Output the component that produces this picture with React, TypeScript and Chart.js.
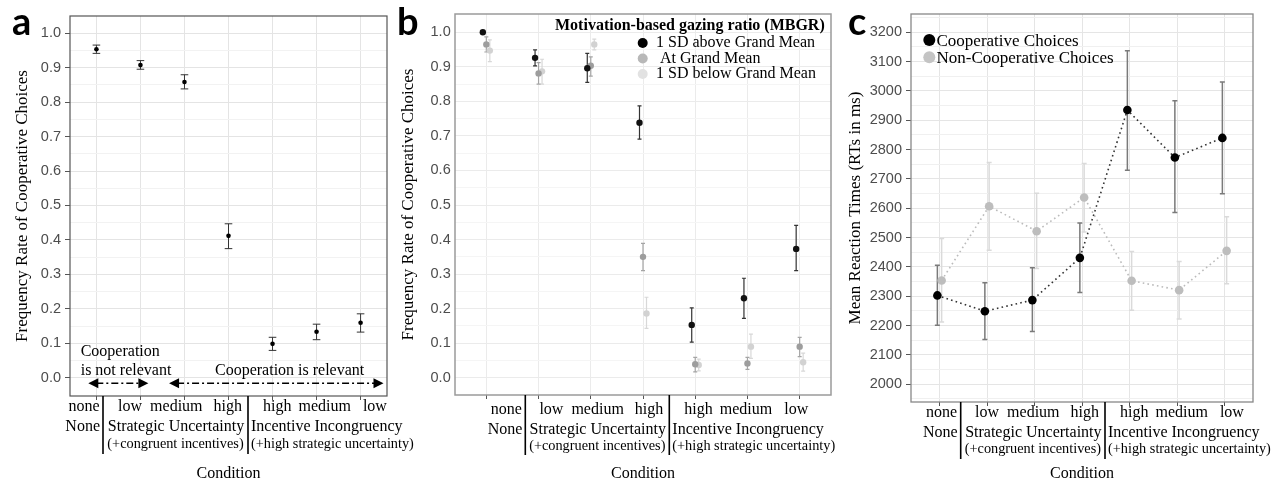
import React, { useEffect, useRef } from "react";
import { Chart, registerables } from "chart.js";

Chart.register(...registerables);

const SERIF = '"Liberation Serif", "Times New Roman", Times, serif';
const SANS = '"Liberation Sans", Arial, Helvetica, sans-serif';
const LABEL_FONT = 'Lato, "Open Sans", "Liberation Sans", sans-serif';

// ---------- shared condition axis ----------
const conditionLevels = ["none", "low", "medium", "high", "high", "medium", "low"];
const conditionGroups = ["None", "Strategic Uncertainty", "Incentive Incongruency"];
const conditionNotes = ["", "(+congruent incentives)", "(+high strategic uncertainty)"];
const conditionGroupSizes = [1, 3, 3];
const xAxisTitle = "Condition";
const panelLetters = ["a", "b", "c"];

// ---------- panel a ----------
const rateTicks = [0, 0.1, 0.2, 0.3, 0.4, 0.5, 0.6, 0.7, 0.8, 0.9, 1.0];
const rateMinorTicks = [0.05, 0.15, 0.25, 0.35, 0.45, 0.55, 0.65, 0.75, 0.85, 0.95];
const rateAxisTitle = "Frequency Rate of Cooperative Choices";
const coopRate = [0.953, 0.907, 0.858, 0.412, 0.099, 0.134, 0.160];
const coopRateLo = [0.941, 0.895, 0.838, 0.375, 0.080, 0.111, 0.133];
const coopRateHi = [0.965, 0.920, 0.879, 0.447, 0.118, 0.156, 0.186];
const relevanceTexts = ["Cooperation", "is not relevant", "Cooperation is relevant"];

// ---------- panel b ----------
const mbgrTitle = "Motivation-based gazing ratio (MBGR)";
const mbgrLabels = ["1 SD above Grand Mean", " At Grand Mean", "1 SD below Grand Mean"];
const mbgrAbove = [1.0, 0.926, 0.896, 0.738, 0.153, 0.230, 0.373];
const mbgrAboveLo = [1.0, 0.903, 0.855, 0.691, 0.103, 0.172, 0.310];
const mbgrAboveHi = [1.0, 0.949, 0.939, 0.787, 0.202, 0.288, 0.441];
const mbgrAt = [0.965, 0.881, 0.903, 0.350, 0.039, 0.041, 0.090];
const mbgrAtLo = [0.943, 0.850, 0.873, 0.310, 0.017, 0.024, 0.061];
const mbgrAtHi = [0.987, 0.912, 0.929, 0.389, 0.059, 0.059, 0.117];
const mbgrBelow = [0.947, 0.887, 0.965, 0.186, 0.037, 0.090, 0.045];
const mbgrBelowLo = [0.915, 0.850, 0.949, 0.143, 0.020, 0.056, 0.019];
const mbgrBelowHi = [0.978, 0.922, 0.980, 0.233, 0.054, 0.126, 0.071];

// ---------- panel c ----------
const rtTicks = [2000, 2100, 2200, 2300, 2400, 2500, 2600, 2700, 2800, 2900, 3000, 3100, 3200];
const rtMinorTicks = [1950, 2050, 2150, 2250, 2350, 2450, 2550, 2650, 2750, 2850, 2950, 3050, 3150, 3250];
const rtAxisTitle = "Mean Reaction Times (RTs in ms)";
const rtLabels = ["Cooperative Choices", "Non-Cooperative Choices"];
const rtCoop = [2303, 2249, 2287, 2431, 2935, 2773, 2840];
const rtCoopLo = [2201, 2153, 2180, 2313, 2730, 2586, 2650];
const rtCoopHi = [2406, 2346, 2397, 2550, 3137, 2967, 3031];
const rtNon = [2354, 2607, 2522, 2637, 2353, 2321, 2455];
const rtNonLo = [2212, 2457, 2395, 2519, 2252, 2223, 2343];
const rtNonHi = [2497, 2756, 2651, 2753, 2453, 2419, 2571];

// ---------- helpers ----------
const pts = (vals: number[], dodge: number) => vals.map((v, i) => ({ x: i + 1 + dodge, y: v }));

function drawWords(ctx: any, words: string[], anchor: number, y: number, gaps: number[], align: string) {
  const widths = words.map((w) => ctx.measureText(w).width);
  const total = widths.reduce((a, b) => a + b, 0) + gaps.reduce((a, b) => a + b, 0);
  let x = align === "right" ? anchor - total : anchor;
  ctx.textAlign = "left";
  words.forEach((w, i) => {
    ctx.fillText(w, x, y);
    x += widths[i] + (gaps[i] || 0);
  });
}

function drawConditionBlock(chart: any, p: any) {
  const ctx = chart.ctx;
  const L = p.canvasLeft;
  const s1 = p.seps[0] - L;
  const s2 = p.seps[1] - L;
  const bottom = chart.chartArea.bottom;
  ctx.save();
  ctx.strokeStyle = "#000";
  ctx.lineWidth = 1.6;
  ctx.beginPath();
  [s1, s2].forEach((s) => {
    ctx.moveTo(s, bottom);
    ctx.lineTo(s, p.sepBottom);
  });
  ctx.stroke();
  ctx.fillStyle = "#000";
  ctx.textBaseline = "middle";
  const f16 = `16px ${SERIF}`;
  const f14 = `14.3px ${SERIF}`;
  const [r1, r2, r3] = p.rowsY;
  const g0 = conditionLevels.slice(0, conditionGroupSizes[0]);
  const g1 = conditionLevels.slice(conditionGroupSizes[0], conditionGroupSizes[0] + conditionGroupSizes[1]);
  const g2 = conditionLevels.slice(conditionGroupSizes[0] + conditionGroupSizes[1]);
  // group 0
  ctx.font = f16;
  ctx.textAlign = "right";
  ctx.fillText(g0.join(" "), s1 - 3.5, r1);
  ctx.fillText(conditionGroups[0], s1 - 3, r2);
  // group 1
  drawWords(ctx, g1, s2 - 6, r1, [8, 11], "right");
  ctx.textAlign = "center";
  ctx.fillText(conditionGroups[1], (s1 + s2) / 2 + 0.5, r2);
  ctx.font = f14;
  ctx.fillText(conditionNotes[1], (s1 + s2) / 2, r3);
  // group 2
  ctx.font = f16;
  drawWords(ctx, g2, s2 + 15, r1, [7, 12], "left");
  ctx.textAlign = "left";
  ctx.fillText(conditionGroups[2], s2 + 3, r2);
  ctx.font = f14;
  ctx.fillText(conditionNotes[2], s2 + 3, r3);
  ctx.restore();
}

function drawDoubleArrow(ctx: any, x1: number, x2: number, y: number) {
  ctx.save();
  ctx.strokeStyle = "#000";
  ctx.fillStyle = "#000";
  ctx.lineWidth = 1.5;
  ctx.setLineDash([7, 3, 2, 3]);
  ctx.beginPath();
  ctx.moveTo(x1 + 8, y);
  ctx.lineTo(x2 - 8, y);
  ctx.stroke();
  ctx.setLineDash([]);
  ctx.beginPath();
  ctx.moveTo(x1, y);
  ctx.lineTo(x1 + 10, y - 5);
  ctx.lineTo(x1 + 10, y + 5);
  ctx.closePath();
  ctx.fill();
  ctx.beginPath();
  ctx.moveTo(x2, y);
  ctx.lineTo(x2 - 10, y - 5);
  ctx.lineTo(x2 - 10, y + 5);
  ctx.closePath();
  ctx.fill();
  ctx.restore();
}

function buildChart(canvas: HTMLCanvasElement, p: any) {
  const H = 482;
  const isMajor = (v: any) => v != null && p.yMajor.some((m: number) => Math.abs(m - v) < 1e-6);
  const decor = {
    id: "panelDecor",
    beforeDatasetsDraw(chart: any) {
      const { ctx, chartArea: a } = chart;
      ctx.save();
      ctx.strokeStyle = p.borderColor;
      ctx.lineWidth = p.borderWidth;
      ctx.strokeRect(a.left, a.top, a.right - a.left, a.bottom - a.top);
      ctx.restore();
      const ys = chart.scales.y;
      const dsList = chart.data.datasets;
      for (let di = dsList.length - 1; di >= 0; di--) {
        const ds: any = dsList[di];
        if (!ds.errLo) continue;
        const meta = chart.getDatasetMeta(di);
        ctx.save();
        ctx.strokeStyle = ds.errColor;
        ctx.lineWidth = ds.errWidth;
        meta.data.forEach((el: any, i: number) => {
          const x = el.x;
          const y1 = ys.getPixelForValue(ds.errLo[i]);
          const y2 = ys.getPixelForValue(ds.errHi[i]);
          if (Math.abs(y1 - y2) < 1) return;
          ctx.beginPath();
          ctx.moveTo(x, y1);
          ctx.lineTo(x, y2);
          ctx.moveTo(x - ds.errCap, y1);
          ctx.lineTo(x + ds.errCap, y1);
          ctx.moveTo(x - ds.errCap, y2);
          ctx.lineTo(x + ds.errCap, y2);
          ctx.stroke();
        });
        ctx.restore();
      }
    },
    afterDraw(chart: any) {
      const ctx = chart.ctx;
      drawConditionBlock(chart, p);
      ctx.save();
      ctx.fillStyle = "#000";
      ctx.font = `bold 38px ${LABEL_FONT}`;
      ctx.textAlign = "left";
      ctx.textBaseline = "alphabetic";
      ctx.fillText(p.label, p.labelX - p.canvasLeft, 35);
      ctx.restore();
      if (p.extra) {
        ctx.save();
        p.extra(chart, ctx);
        ctx.restore();
      }
    },
  };

  return new Chart(canvas, {
    type: "line",
    data: { datasets: p.datasets },
    plugins: [decor],
    options: {
      responsive: false,
      animation: false,
      events: [],
      layout: {
        autoPadding: false,
        padding: {
          left: 0,
          top: p.area.t,
          right: p.canvasWidth - (p.area.r - p.canvasLeft),
          bottom: 0,
        },
      },
      plugins: { legend: { display: false }, tooltip: { enabled: false } },
      scales: {
        x: {
          type: "linear",
          min: 0.4,
          max: 7.6,
          afterBuildTicks: (s: any) => {
            s.ticks = conditionLevels.map((_, i) => ({ value: i + 1 }));
          },
          afterFit: (s: any) => {
            s.height = H - p.area.b;
          },
          ticks: { autoSkip: false, maxRotation: 0, callback: () => "", padding: 0 },
          grid: {
            color: p.gridMajor,
            lineWidth: 1,
            drawTicks: true,
            tickLength: 4,
            tickColor: "#555",
          },
          border: { display: false },
          title: {
            display: true,
            text: xAxisTitle,
            color: "#000",
            font: { family: SERIF, size: 16, lineHeight: 1 },
            padding: { top: 0, bottom: 0 },
          },
        },
        y: {
          type: "linear",
          min: p.yMin,
          max: p.yMax,
          afterBuildTicks: (s: any) => {
            s.ticks = [...p.yMajor, ...p.yMinor].sort((a, b) => a - b).map((v) => ({ value: v }));
          },
          afterFit: (s: any) => {
            s.width = p.area.l - p.canvasLeft;
          },
          ticks: {
            autoSkip: false,
            padding: p.yTickPad,
            color: "#4d4d4d",
            font: { family: SANS, size: 14.5 },
            callback: (v: any) => (isMajor(v) ? p.yFmt(v) : ""),
          },
          grid: {
            color: (c: any) => (isMajor(c.tick && c.tick.value) ? p.gridMajor : p.gridMinor),
            lineWidth: 1,
            drawTicks: p.yTickLen > 0,
            tickLength: p.yTickLen,
            tickColor: (c: any) => (isMajor(c.tick && c.tick.value) ? "#555" : "rgba(0,0,0,0)"),
          },
          border: { display: false },
          title: {
            display: true,
            text: p.yTitle,
            color: "#000",
            font: { family: SERIF, size: 17, lineHeight: 1.2 },
            padding: { top: p.yTitleX - p.canvasLeft - 10.2, bottom: 0 },
          },
        },
      },
    } as any,
  });
}

// ---------- panel configs ----------
const rateFmt = (v: number) => v.toFixed(1);

const panelA = {
  canvasLeft: 0,
  canvasWidth: 425,
  area: { l: 70, r: 387, t: 16, b: 396 },
  yMin: -0.0522,
  yMax: 1.0493,
  yMajor: rateTicks,
  yMinor: rateMinorTicks,
  yFmt: rateFmt,
  yTitle: rateAxisTitle,
  yTitleX: 22.5,
  yTickLen: 5,
  yTickPad: 4,
  gridMajor: "#e4e4e4",
  gridMinor: "#f2f2f2",
  borderColor: "#555",
  borderWidth: 1.2,
  seps: [103, 248],
  rowsY: [407, 427, 444.3],
  sepBottom: 454,
  label: panelLetters[0],
  labelX: 12,
  datasets: [
    {
      label: "Frequency rate",
      data: pts(coopRate, 0),
      showLine: false,
      pointRadius: 2.3,
      pointBorderWidth: 0,
      pointBackgroundColor: "#000",
      borderColor: "#000",
      errLo: coopRateLo,
      errHi: coopRateHi,
      errColor: "#333",
      errWidth: 1,
      errCap: 3.8,
    },
  ],
  extra: (chart: any, ctx: any) => {
    const xs = chart.scales.x;
    const ys = chart.scales.y;
    ctx.fillStyle = "#000";
    ctx.font = `16px ${SERIF}`;
    ctx.textAlign = "left";
    ctx.textBaseline = "middle";
    ctx.fillText(relevanceTexts[0], xs.getPixelForValue(0.643), ys.getPixelForValue(0.076));
    ctx.fillText(relevanceTexts[1], xs.getPixelForValue(0.643), ys.getPixelForValue(0.021));
    ctx.fillText(relevanceTexts[2], xs.getPixelForValue(3.693), ys.getPixelForValue(0.021));
    const ay = ys.getPixelForValue(-0.015);
    drawDoubleArrow(ctx, xs.getPixelForValue(0.816), xs.getPixelForValue(2.18), ay);
    drawDoubleArrow(ctx, xs.getPixelForValue(2.65), xs.getPixelForValue(7.52), ay);
  },
};

const mbgrColors = ["#111111", "#9d9d9d", "#d2d2d2"];
const mbgrErrColors = ["#333333", "#a5a5a5", "#d8d8d8"];
const mbgrLegendColors = ["#000000", "#b8b8b8", "#e2e2e2"];
const mbgrDodge = [-0.067, 0, 0.067];
const mbgrSeries = [
  [mbgrAbove, mbgrAboveLo, mbgrAboveHi],
  [mbgrAt, mbgrAtLo, mbgrAtHi],
  [mbgrBelow, mbgrBelowLo, mbgrBelowHi],
];

const panelB = {
  canvasLeft: 392,
  canvasWidth: 450,
  area: { l: 455, r: 831, t: 14, b: 395 },
  yMin: -0.05,
  yMax: 1.053,
  yMajor: rateTicks,
  yMinor: rateMinorTicks,
  yFmt: rateFmt,
  yTitle: rateAxisTitle,
  yTitleX: 408.5,
  yTickLen: 0,
  yTickPad: 4.3,
  gridMajor: "#ebebeb",
  gridMinor: "#f5f5f5",
  borderColor: "#9a9a9a",
  borderWidth: 1.5,
  seps: [525.3, 669.3],
  rowsY: [409.3, 429.3, 446],
  sepBottom: 455,
  label: panelLetters[1],
  labelX: 397,
  datasets: mbgrSeries.map((s, k) => ({
    label: mbgrLabels[k],
    data: pts(s[0], mbgrDodge[k]),
    showLine: false,
    pointRadius: 3.2,
    pointBorderWidth: 0,
    pointBackgroundColor: mbgrColors[k],
    borderColor: mbgrColors[k],
    errLo: s[1],
    errHi: s[2],
    errColor: mbgrErrColors[k],
    errWidth: 1.2,
    errCap: 2,
  })),
  extra: (chart: any, ctx: any) => {
    const L = 392;
    ctx.fillStyle = "#000";
    ctx.textBaseline = "middle";
    ctx.textAlign = "left";
    ctx.font = `bold 16px ${SERIF}`;
    ctx.fillText(mbgrTitle, 555 - L, 25.5);
    const rows = [43, 58.5, 74];
    ctx.font = `16px ${SERIF}`;
    chart.data.datasets.forEach((ds: any, k: number) => {
      ctx.fillStyle = mbgrLegendColors[k];
      ctx.beginPath();
      ctx.arc(642.7 - L, rows[k], 5, 0, Math.PI * 2);
      ctx.fill();
      ctx.fillStyle = "#000";
      ctx.fillText(ds.label, 656 - L, rows[k]);
    });
  },
};

const rtColors = ["#000000", "#bdbdbd"];
const rtLineColors = ["#333333", "#bbbbbb"];
const rtErrColors = ["#7a7a7a", "#dadada"];
const rtLegendColors = ["#000000", "#c4c4c4"];
const rtDodge = [-0.045, 0.045];
const rtSeries = [
  [rtCoop, rtCoopLo, rtCoopHi],
  [rtNon, rtNonLo, rtNonHi],
];

const panelC = {
  canvasLeft: 842,
  canvasWidth: 440,
  area: { l: 911, r: 1253, t: 14, b: 402 },
  yMin: 1939.6,
  yMax: 3262.5,
  yMajor: rtTicks,
  yMinor: rtMinorTicks,
  yFmt: (v: number) => String(v),
  yTitle: rtAxisTitle,
  yTitleX: 855.3,
  yTickLen: 5,
  yTickPad: 4,
  gridMajor: "#e5e5e5",
  gridMinor: "#f0f0f0",
  borderColor: "#888",
  borderWidth: 1.3,
  seps: [960.7, 1105],
  rowsY: [412.7, 432.7, 449.3],
  sepBottom: 459,
  label: panelLetters[2],
  labelX: 848,
  datasets: rtSeries.map((s, k) => ({
    label: rtLabels[k],
    data: pts(s[0], rtDodge[k]),
    showLine: true,
    tension: 0,
    borderColor: rtLineColors[k],
    borderWidth: 1.6,
    borderDash: [1.6, 3.2],
    pointRadius: 4.3,
    pointBorderWidth: 0,
    pointBackgroundColor: rtColors[k],
    errLo: s[1],
    errHi: s[2],
    errColor: rtErrColors[k],
    errWidth: 1.5,
    errCap: 2.5,
  })),
  extra: (chart: any, ctx: any) => {
    const L = 842;
    ctx.textBaseline = "middle";
    ctx.textAlign = "left";
    ctx.font = `17px ${SERIF}`;
    const dots = [40, 57.3];
    const texts = [41.7, 59];
    chart.data.datasets.forEach((ds: any, k: number) => {
      ctx.fillStyle = rtLegendColors[k];
      ctx.beginPath();
      ctx.arc(929.3 - L, dots[k], 6, 0, Math.PI * 2);
      ctx.fill();
      ctx.fillStyle = "#000";
      ctx.fillText(ds.label, 936.5 - L, texts[k]);
    });
  },
};

const panels = [panelA, panelB, panelC];

export default function App() {
  const refs = [useRef<HTMLCanvasElement>(null), useRef<HTMLCanvasElement>(null), useRef<HTMLCanvasElement>(null)];
  useEffect(() => {
    const charts = panels.map((p, i) => buildChart(refs[i].current as HTMLCanvasElement, p));
    return () => charts.forEach((c) => c.destroy());
  }, []);
  return (
    <div style={{ position: "fixed", left: 0, top: 0, width: 1282, height: 482, background: "#fff", overflow: "hidden" }}>
      {panels.map((p, i) => (
        <canvas
          key={i}
          ref={refs[i]}
          width={p.canvasWidth}
          height={482}
          style={{ position: "absolute", left: p.canvasLeft, top: 0, width: p.canvasWidth, height: 482, display: "block" }}
        />
      ))}
    </div>
  );
}
